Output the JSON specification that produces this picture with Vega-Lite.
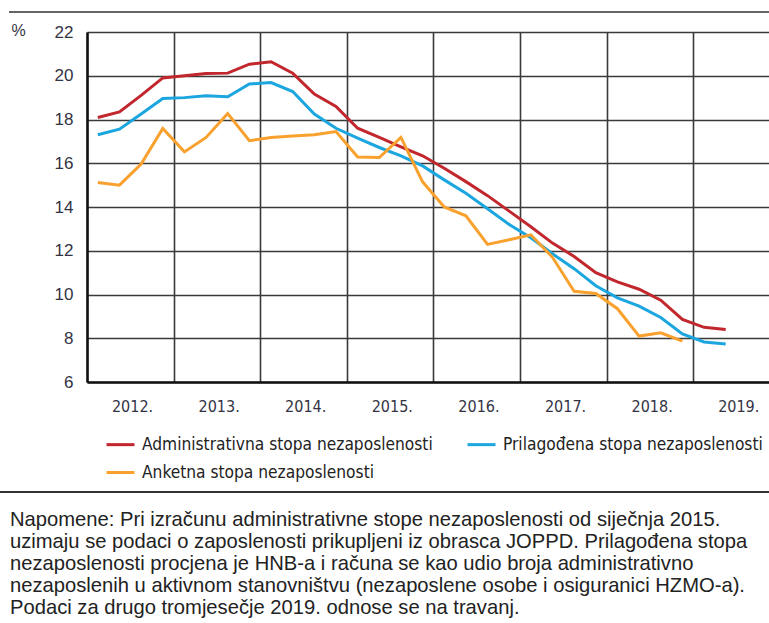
{
  "$schema": "https://vega.github.io/schema/vega-lite/v6.json",
  "width": 682,
  "height": 350,
  "autosize": {"type": "none"},
  "padding": {"left": 87, "top": 32, "right": 0, "bottom": 241},
  "background": "white",
  "config": {
    "view": {"stroke": null},
    "font": "Liberation Sans"
  },
  "title": {
    "text": [
      "Napomene: Pri izračunu administrativne stope nezaposlenosti od siječnja 2015.",
      "uzimaju se podaci o zaposlenosti prikupljeni iz obrasca JOPPD. Prilagođena stopa",
      "nezaposlenosti procjena je HNB-a i računa se kao udio broja administrativno",
      "nezaposlenih u aktivnom stanovništvu (nezaposlene osobe i osiguranici HZMO-a).",
      "Podaci za drugo tromjesečje 2019. odnose se na travanj."
    ],
    "orient": "bottom",
    "anchor": "start",
    "frame": "group",
    "dx": -77,
    "offset": 17,
    "font": "Liberation Sans",
    "fontSize": 20.2,
    "fontWeight": "normal",
    "lineHeight": 22,
    "color": "#222222",
    "baseline": "top"
  },
  "data": {
    "values": [
      {"series": "Administrativna stopa nezaposlenosti", "t": 2012.125, "v": 18.09},
      {"series": "Administrativna stopa nezaposlenosti", "t": 2012.375, "v": 18.35},
      {"series": "Administrativna stopa nezaposlenosti", "t": 2012.625, "v": 19.1},
      {"series": "Administrativna stopa nezaposlenosti", "t": 2012.875, "v": 19.9},
      {"series": "Administrativna stopa nezaposlenosti", "t": 2013.125, "v": 20.0},
      {"series": "Administrativna stopa nezaposlenosti", "t": 2013.375, "v": 20.1},
      {"series": "Administrativna stopa nezaposlenosti", "t": 2013.625, "v": 20.12},
      {"series": "Administrativna stopa nezaposlenosti", "t": 2013.875, "v": 20.53},
      {"series": "Administrativna stopa nezaposlenosti", "t": 2014.125, "v": 20.64},
      {"series": "Administrativna stopa nezaposlenosti", "t": 2014.375, "v": 20.12},
      {"series": "Administrativna stopa nezaposlenosti", "t": 2014.625, "v": 19.16},
      {"series": "Administrativna stopa nezaposlenosti", "t": 2014.875, "v": 18.6},
      {"series": "Administrativna stopa nezaposlenosti", "t": 2015.125, "v": 17.6},
      {"series": "Administrativna stopa nezaposlenosti", "t": 2015.375, "v": 17.18},
      {"series": "Administrativna stopa nezaposlenosti", "t": 2015.625, "v": 16.75},
      {"series": "Administrativna stopa nezaposlenosti", "t": 2015.875, "v": 16.34},
      {"series": "Administrativna stopa nezaposlenosti", "t": 2016.125, "v": 15.77},
      {"series": "Administrativna stopa nezaposlenosti", "t": 2016.375, "v": 15.16},
      {"series": "Administrativna stopa nezaposlenosti", "t": 2016.625, "v": 14.52},
      {"series": "Administrativna stopa nezaposlenosti", "t": 2016.875, "v": 13.81},
      {"series": "Administrativna stopa nezaposlenosti", "t": 2017.125, "v": 13.1},
      {"series": "Administrativna stopa nezaposlenosti", "t": 2017.375, "v": 12.35},
      {"series": "Administrativna stopa nezaposlenosti", "t": 2017.625, "v": 11.74},
      {"series": "Administrativna stopa nezaposlenosti", "t": 2017.875, "v": 11.0},
      {"series": "Administrativna stopa nezaposlenosti", "t": 2018.125, "v": 10.58},
      {"series": "Administrativna stopa nezaposlenosti", "t": 2018.375, "v": 10.24},
      {"series": "Administrativna stopa nezaposlenosti", "t": 2018.625, "v": 9.74},
      {"series": "Administrativna stopa nezaposlenosti", "t": 2018.875, "v": 8.86},
      {"series": "Administrativna stopa nezaposlenosti", "t": 2019.125, "v": 8.5},
      {"series": "Administrativna stopa nezaposlenosti", "t": 2019.375, "v": 8.4},
      {"series": "Prilagođena stopa nezaposlenosti", "t": 2012.125, "v": 17.3},
      {"series": "Prilagođena stopa nezaposlenosti", "t": 2012.375, "v": 17.56},
      {"series": "Prilagođena stopa nezaposlenosti", "t": 2012.625, "v": 18.25},
      {"series": "Prilagođena stopa nezaposlenosti", "t": 2012.875, "v": 18.96},
      {"series": "Prilagođena stopa nezaposlenosti", "t": 2013.125, "v": 19.0},
      {"series": "Prilagođena stopa nezaposlenosti", "t": 2013.375, "v": 19.08},
      {"series": "Prilagođena stopa nezaposlenosti", "t": 2013.625, "v": 19.04},
      {"series": "Prilagođena stopa nezaposlenosti", "t": 2013.875, "v": 19.62},
      {"series": "Prilagođena stopa nezaposlenosti", "t": 2014.125, "v": 19.69},
      {"series": "Prilagođena stopa nezaposlenosti", "t": 2014.375, "v": 19.28},
      {"series": "Prilagođena stopa nezaposlenosti", "t": 2014.625, "v": 18.25},
      {"series": "Prilagođena stopa nezaposlenosti", "t": 2014.875, "v": 17.6},
      {"series": "Prilagođena stopa nezaposlenosti", "t": 2015.125, "v": 17.15},
      {"series": "Prilagođena stopa nezaposlenosti", "t": 2015.375, "v": 16.72},
      {"series": "Prilagođena stopa nezaposlenosti", "t": 2015.625, "v": 16.34},
      {"series": "Prilagođena stopa nezaposlenosti", "t": 2015.875, "v": 15.88},
      {"series": "Prilagođena stopa nezaposlenosti", "t": 2016.125, "v": 15.24},
      {"series": "Prilagođena stopa nezaposlenosti", "t": 2016.375, "v": 14.63},
      {"series": "Prilagođena stopa nezaposlenosti", "t": 2016.625, "v": 13.92},
      {"series": "Prilagođena stopa nezaposlenosti", "t": 2016.875, "v": 13.2},
      {"series": "Prilagođena stopa nezaposlenosti", "t": 2017.125, "v": 12.59},
      {"series": "Prilagođena stopa nezaposlenosti", "t": 2017.375, "v": 11.86},
      {"series": "Prilagođena stopa nezaposlenosti", "t": 2017.625, "v": 11.18},
      {"series": "Prilagođena stopa nezaposlenosti", "t": 2017.875, "v": 10.4},
      {"series": "Prilagođena stopa nezaposlenosti", "t": 2018.125, "v": 9.85},
      {"series": "Prilagođena stopa nezaposlenosti", "t": 2018.375, "v": 9.47},
      {"series": "Prilagođena stopa nezaposlenosti", "t": 2018.625, "v": 8.95},
      {"series": "Prilagođena stopa nezaposlenosti", "t": 2018.875, "v": 8.2},
      {"series": "Prilagođena stopa nezaposlenosti", "t": 2019.125, "v": 7.83},
      {"series": "Prilagođena stopa nezaposlenosti", "t": 2019.375, "v": 7.74},
      {"series": "Anketna stopa nezaposlenosti", "t": 2012.125, "v": 15.12},
      {"series": "Anketna stopa nezaposlenosti", "t": 2012.375, "v": 15.0},
      {"series": "Anketna stopa nezaposlenosti", "t": 2012.625, "v": 15.96},
      {"series": "Anketna stopa nezaposlenosti", "t": 2012.875, "v": 17.59},
      {"series": "Anketna stopa nezaposlenosti", "t": 2013.125, "v": 16.52},
      {"series": "Anketna stopa nezaposlenosti", "t": 2013.375, "v": 17.18},
      {"series": "Anketna stopa nezaposlenosti", "t": 2013.625, "v": 18.27},
      {"series": "Anketna stopa nezaposlenosti", "t": 2013.875, "v": 17.03},
      {"series": "Anketna stopa nezaposlenosti", "t": 2014.125, "v": 17.18},
      {"series": "Anketna stopa nezaposlenosti", "t": 2014.375, "v": 17.25},
      {"series": "Anketna stopa nezaposlenosti", "t": 2014.625, "v": 17.3},
      {"series": "Anketna stopa nezaposlenosti", "t": 2014.875, "v": 17.45},
      {"series": "Anketna stopa nezaposlenosti", "t": 2015.125, "v": 16.29},
      {"series": "Anketna stopa nezaposlenosti", "t": 2015.375, "v": 16.26},
      {"series": "Anketna stopa nezaposlenosti", "t": 2015.625, "v": 17.18},
      {"series": "Anketna stopa nezaposlenosti", "t": 2015.875, "v": 15.15},
      {"series": "Anketna stopa nezaposlenosti", "t": 2016.125, "v": 14.0},
      {"series": "Anketna stopa nezaposlenosti", "t": 2016.375, "v": 13.6},
      {"series": "Anketna stopa nezaposlenosti", "t": 2016.625, "v": 12.29},
      {"series": "Anketna stopa nezaposlenosti", "t": 2016.875, "v": 12.5},
      {"series": "Anketna stopa nezaposlenosti", "t": 2017.125, "v": 12.73},
      {"series": "Anketna stopa nezaposlenosti", "t": 2017.375, "v": 11.7},
      {"series": "Anketna stopa nezaposlenosti", "t": 2017.625, "v": 10.15},
      {"series": "Anketna stopa nezaposlenosti", "t": 2017.875, "v": 10.05},
      {"series": "Anketna stopa nezaposlenosti", "t": 2018.125, "v": 9.35},
      {"series": "Anketna stopa nezaposlenosti", "t": 2018.375, "v": 8.1},
      {"series": "Anketna stopa nezaposlenosti", "t": 2018.625, "v": 8.25},
      {"series": "Anketna stopa nezaposlenosti", "t": 2018.875, "v": 7.87}
    ]
  },
  "layer": [
    {
      "mark": {"type": "rule", "clip": false, "stroke": "#666666", "strokeWidth": 1.5},
      "encoding": {
        "x": {"datum": 2011.11, "type": "quantitative"},
        "x2": {"datum": 2019.875},
        "y": {"datum": 22.91, "type": "quantitative"}
      }
    },
    {
      "mark": {"type": "rule", "clip": false, "stroke": "#333333", "strokeWidth": 2},
      "encoding": {
        "x": {"datum": 2010.99, "type": "quantitative"},
        "x2": {"datum": 2019.875},
        "y": {"datum": 0.97, "type": "quantitative"}
      }
    },
    {
      "mark": {"type": "line", "strokeWidth": 3, "clip": true},
      "encoding": {
        "x": {
          "field": "t",
          "type": "quantitative",
          "scale": {"domain": [2012, 2019.875], "nice": false, "zero": false},
          "axis": {
            "values": [2012, 2013, 2014, 2015, 2016, 2017, 2018, 2019],
            "labelExpr": "datum.value + '.'",
            "labelOffset": 45,
            "labelFlush": false,
            "labelOverlap": false,
            "labelPadding": 16,
            "labelFont": "DejaVu Sans Condensed, Liberation Sans",
            "labelFontSize": 16,
            "labelColor": "#333344",
            "ticks": false,
            "domainColor": "#111111",
            "domainWidth": 2.5,
            "grid": true,
            "gridColor": "#3a3a3a",
            "gridWidth": 1.6,
            "gridOpacity": 1,
            "title": null
          }
        },
        "y": {
          "field": "v",
          "type": "quantitative",
          "scale": {"domain": [6, 22], "nice": false, "zero": false},
          "axis": {
            "values": [6, 8, 10, 12, 14, 16, 18, 20, 22],
            "labelPadding": 14,
            "labelFont": "Liberation Sans",
            "labelFontSize": 17,
            "labelColor": "#333344",
            "ticks": false,
            "domainColor": "#111111",
            "domainWidth": 2.5,
            "grid": true,
            "gridColor": "#3a3a3a",
            "gridWidth": 1.6,
            "gridOpacity": 1,
            "title": "%",
            "titleAngle": 0,
            "titleX": -69,
            "titleY": -2,
            "titleAlign": "center",
            "titleBaseline": "middle",
            "titleFont": "Liberation Sans",
            "titleFontSize": 16,
            "titleFontWeight": "normal",
            "titleColor": "#333344"
          }
        },
        "color": {
          "field": "series",
          "type": "nominal",
          "scale": {
            "domain": ["Administrativna stopa nezaposlenosti", "Prilagođena stopa nezaposlenosti", "Anketna stopa nezaposlenosti"],
            "range": ["#c1272d", "#1ba6e0", "#f9a12e"]
          },
          "legend": {
            "orient": "none",
            "legendX": 18,
            "legendY": 397,
            "direction": "horizontal",
            "columns": 2,
            "columnPadding": 28,
            "rowPadding": 4,
            "symbolType": "stroke",
            "symbolSize": 784,
            "symbolStrokeWidth": 3,
            "labelFont": "DejaVu Sans Condensed, Liberation Sans",
            "labelFontSize": 17.2,
            "labelColor": "#222222",
            "labelOffset": 6,
            "labelLimit": 400,
            "title": null
          }
        }
      }
    }
  ]
}
